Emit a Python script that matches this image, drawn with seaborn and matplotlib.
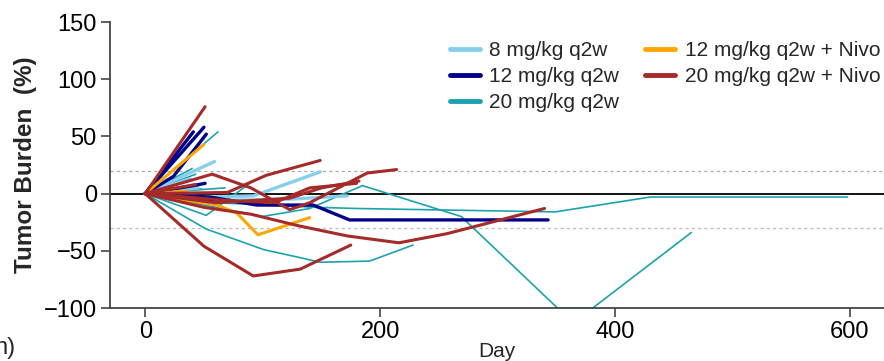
import matplotlib
matplotlib.use("Agg")
import matplotlib.pyplot as plt
from matplotlib.lines import Line2D
import pandas as pd
import seaborn as sns

# Regimens and their colours
regimens = ["8 mg/kg q2w", "12 mg/kg q2w", "20 mg/kg q2w",
            "12 mg/kg q2w + Nivo", "20 mg/kg q2w + Nivo"]
colors = ["#87CEEB", "#00008B", "#1AA3AE", "#FFA500", "#A52A2A"]

# Per-patient tumour burden change (%) over time (days), grouped by regimen
days_8 = [[0, 59], [0, 50, 92, 149], [0, 60, 120, 172], [0, 45], [0, 38], [0, 55]]
burden_8 = [[0, 28], [0, -3, -2, 19], [0, -6, -5, -2], [0, 5], [0, 13], [0, -4]]

days_12 = [[0, 41], [0, 50], [0, 24, 52], [0, 41, 51],
           [0, 55, 95, 143, 174, 343], [0, 55, 100]]
burden_12 = [[0, 54], [0, 58], [0, 15, 52], [0, 7, 9],
             [0, -3, -10, -10, -23, -23], [0, -5, -9]]

days_20 = [[0, 62], [0, 40], [0, 43], [0, 68], [0, 52, 89],
           [0, 100, 140, 185, 269, 351, 381, 465],
           [0, 60, 146, 180, 349, 430, 598],
           [0, 52, 101, 132, 149, 191, 228], [0, 48]]
burden_20 = [[0, 54], [0, 22], [0, 17], [0, 5], [0, -19, 9],
             [0, -20, -13, 7, -20, -100, -100, -34],
             [0, -8, -12, -13, -16, -3, -3],
             [0, -31, -49, -56, -60, -59, -45], [0, 4]]

days_12n = [[0, 50], [0, 61, 78, 96, 140], [0, 35]]
burden_12n = [[0, 43], [0, -10, -17, -36, -21], [0, 2]]

days_20n = [[0, 51], [0, 57, 90, 123, 140, 172, 189, 214], [0, 70, 103, 149],
            [0, 50, 90, 130, 172, 216, 257, 340], [0, 60, 123, 150, 182],
            [0, 50, 92, 132, 175], [0, 43], [0, 70, 110, 140, 180]]
burden_20n = [[0, 76], [0, 17, 5, -14, -8, 9, 18, 21], [0, 1, 16, 29],
              [0, -12, -18, -28, -37, -43, -35, -13], [0, -8, -4, 5, 11],
              [0, -46, -72, -66, -45], [0, 8], [0, -6, -8, 5, 9]]

groups = {
    "8 mg/kg q2w": (days_8, burden_8),
    "12 mg/kg q2w": (days_12, burden_12),
    "20 mg/kg q2w": (days_20, burden_20),
    "12 mg/kg q2w + Nivo": (days_12n, burden_12n),
    "20 mg/kg q2w + Nivo": (days_20n, burden_20n),
}

rows = []
pid = 0
for reg, (dd, bb) in groups.items():
    for d_list, b_list in zip(dd, bb):
        pid += 1
        for d, b in zip(d_list, b_list):
            rows.append({"Day": d, "Burden": b, "Regimen": reg, "Patient": pid})
df = pd.DataFrame(rows)

sns.set_style("ticks")
plt.rcParams["font.family"] = ["Liberation Sans", "DejaVu Sans"]

fig = plt.figure(figsize=(8.84, 3.61), dpi=100)
ax = fig.add_axes([0.1244, 0.1468, 0.8756, 0.7922])

palette = dict(zip(regimens, colors))
widths = {"8 mg/kg q2w": 2.4, "12 mg/kg q2w": 2.4, "20 mg/kg q2w": 1.2,
          "12 mg/kg q2w + Nivo": 2.2, "20 mg/kg q2w + Nivo": 2.2}
draw_order = ["20 mg/kg q2w", "8 mg/kg q2w", "12 mg/kg q2w",
              "12 mg/kg q2w + Nivo", "20 mg/kg q2w + Nivo"]

ax.axhline(20, color="#AAAAAA", lw=0.9, ls=(0, (2.5, 2.5)), zorder=1)
ax.axhline(-30, color="#BBBBBB", lw=0.9, ls=(0, (2.5, 2.5)), zorder=1)
ax.axhline(0, color="black", lw=1.3, zorder=1.5)

sns.lineplot(data=df, x="Day", y="Burden", hue="Regimen", hue_order=draw_order,
             size="Regimen", sizes=widths, units="Patient", estimator=None,
             sort=False, palette=palette, legend=False, ax=ax, zorder=2)

ax.set_xlim(-30, 629)
ax.set_ylim(-100, 150)
ax.set_xticks([0, 200, 400, 600])
ax.set_yticks([-100, -50, 0, 50, 100, 150])
ax.tick_params(axis="both", labelsize=17, length=6.5, width=1.2,
               color="#444444", labelcolor="black", pad=3)
for side in ("left", "bottom"):
    ax.spines[side].set_linewidth(1.3)
    ax.spines[side].set_color("#444444")
ax.spines["top"].set_visible(False)
ax.spines["right"].set_visible(False)

ax.set_xlabel("Day", fontsize=15, labelpad=-1)
ax.set_ylabel("Tumor Burden  (%)", fontsize=17.5, fontweight="bold", labelpad=5)

handles = [Line2D([0], [0], color=palette[r], lw=3.5) for r in regimens]
ax.legend(handles, regimens, loc="upper left", bbox_to_anchor=(0.428, 0.962),
          ncol=2, frameon=False, fontsize=15, handlelength=1.45,
          handletextpad=0.45, columnspacing=1.25, labelspacing=0.33,
          borderaxespad=0.0, borderpad=0.4)

fig.text(-0.006, 0.02, "n)", fontsize=17)

fig.savefig("out.png", dpi=100)
